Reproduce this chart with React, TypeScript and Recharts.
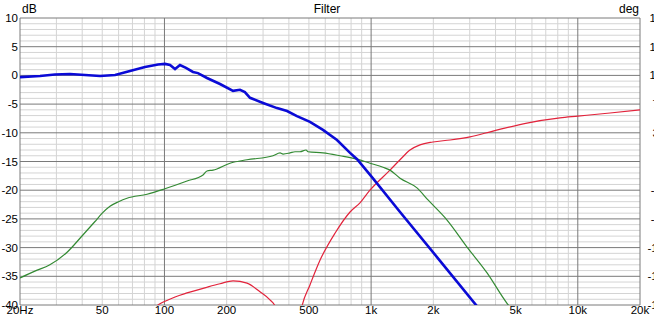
import React from "react";
import {
  LineChart,
  Line,
  XAxis,
  YAxis,
  CartesianGrid,
} from "recharts";

// frequency (Hz) / level (dB) pairs
const blueFreq = [20, 25, 29.5, 34.9, 41.3, 48.8, 57.7, 68.1, 80.5, 93.1, 100.6, 106.4, 112.5, 118.9, 127.1, 137.4, 145.3, 160.6, 185.7, 214.7, 232, 245, 259.4, 300, 350.4, 392, 437.6, 505.9, 584.8, 683.7, 790.7, 855, 998, 1380, 2155, 3218, 3700];
const blueDb = [-0.3, -0.1, 0.16, 0.24, 0.07, -0.1, 0.07, 0.77, 1.46, 1.9, 2.0, 1.8, 1.1, 1.8, 1.3, 0.6, 0.4, -0.45, -1.5, -2.7, -2.5, -2.9, -3.9, -4.8, -5.7, -6.2, -7.1, -8.1, -9.5, -11.25, -13.5, -14.6, -17.5, -23.8, -32.3, -40.0, -43];

const greenFreq = [20, 23.6, 27.9, 33.8, 40.3, 46, 50, 54.5, 60, 65.9, 82.4, 99.7, 128.6, 153.7, 160.6, 171.8, 207.6, 250.9, 335.2, 362.6, 374.9, 405.2, 428.4, 452.9, 484.3, 495, 584.8, 707, 855, 987, 1142, 1234, 1380, 1667, 1885, 2330, 2911, 3639, 4545, 5000];
const greenDb = [-35.3, -34.1, -33.0, -30.8, -27.8, -25.5, -24.0, -22.8, -22.0, -21.4, -20.7, -19.8, -18.4, -17.35, -16.65, -16.5, -15.3, -14.7, -14.0, -13.5, -13.7, -13.5, -13.3, -13.3, -13.0, -13.3, -13.5, -14.0, -14.6, -15.3, -16.0, -16.5, -17.9, -19.6, -21.7, -25.2, -29.9, -34.4, -39.7, -41.5];

const redFreq = [85, 95.1, 112.5, 128.6, 160.6, 185.7, 214.7, 250.9, 289.9, 324, 342.8, 370, 396, 425, 463, 506, 565.7, 668.5, 790.7, 883, 987, 1234, 1380, 1542, 1723, 1992, 2409, 3010, 3888, 5677, 8202, 10000, 14320, 20000];
const redDb = [-41, -39.8, -38.6, -37.9, -36.9, -36.3, -35.8, -36.2, -37.7, -39.1, -40.2, -46, -60, -48, -40.2, -36.5, -32.2, -27.5, -23.8, -22.2, -20, -16.5, -14.7, -13.0, -12.1, -11.6, -11.25, -10.7, -9.7, -8.3, -7.4, -7.1, -6.55, -6.0];

const xTicks = [20, 50, 100, 200, 500, 1000, 2000, 5000, 10000, 20000];
const xMajor = [20, 100, 1000, 10000, 20000];
const xMinor = [30, 40, 50, 60, 70, 80, 90, 200, 300, 400, 500, 600, 700, 800, 900, 2000, 3000, 4000, 5000, 6000, 7000, 8000, 9000];
const dbTicks = [10, 5, 0, -5, -10, -15, -20, -25, -30, -35, -40];
const dbMinor = [9, 8, 7, 6, 4, 3, 2, 1, -1, -2, -3, -4, -6, -7, -8, -9, -11, -12, -13, -14, -16, -17, -18, -19, -21, -22, -23, -24, -26, -27, -28, -29, -31, -32, -33, -34, -36, -37, -38, -39];
const degTicks = [180, 144, 108, 72, 36, 0, -36, -72, -108, -144, -180];

const toPoints = (f: number[], v: number[]) => f.map((x, i) => ({ f: x, v: v[i] }));

const fmtHz = (v: number) => {
  if (v === 20) return "20Hz";
  if (v >= 1000) return `${v / 1000}k`;
  return String(v);
};

const font = "'Liberation Sans', Arial, sans-serif";
const tickStyle = { fill: "#000", fontSize: 11.5, fontFamily: font };

// right-hand labels are centred just past the window edge, so they show cut off
const DegTick = (props: any) => (
  <text
    x={props.x + 11}
    y={props.y}
    dy="0.355em"
    textAnchor="middle"
    fill="#000"
    fontSize={11.5}
    fontFamily={font}
  >
    {props.payload.value}
  </text>
);

export default function App() {
  return (
    <div style={{ position: "fixed", left: 0, top: 0, width: 654, height: 318, background: "#fff", fontFamily: font }}>
      <div style={{ position: "absolute", left: 0, right: 0, top: 2, textAlign: "center", fontSize: 12 }}>Filter</div>
      <div style={{ position: "absolute", left: 22, top: 2, fontSize: 12 }}>dB</div>
      <div style={{ position: "absolute", left: 619, top: 2, fontSize: 12 }}>deg</div>
      <LineChart
        width={654}
        height={318}
        margin={{ top: 18, right: 0, left: 0, bottom: 0 }}
      >
        <CartesianGrid
          stroke="#d4d4d4"
          horizontalValues={dbMinor}
          verticalValues={xMinor}
        />
        <CartesianGrid
          stroke="#7a7a7a"
          horizontalValues={dbTicks}
          verticalValues={xMajor}
        />
        <XAxis
          dataKey="f"
          type="number"
          scale="log"
          domain={[20, 20000]}
          allowDataOverflow
          ticks={xTicks}
          tickFormatter={fmtHz}
          tickLine={false}
          axisLine={false}
          tickSize={0}
          tickMargin={1}
          height={13}
          interval={0}
          tick={tickStyle}
        />
        <YAxis
          type="number"
          domain={[-40, 10]}
          allowDataOverflow
          ticks={dbTicks}
          tickLine={false}
          axisLine={false}
          tickSize={0}
          width={20}
          tickMargin={2}
          interval={0}
          tick={tickStyle}
        />
        <YAxis
          yAxisId="deg"
          orientation="right"
          type="number"
          domain={[-180, 180]}
          allowDataOverflow
          ticks={degTicks}
          tickLine={false}
          axisLine={false}
          tickSize={0}
          width={14}
          tickMargin={8}
          interval={0}
          tick={DegTick}
        />
        <Line
          data={toPoints(redFreq, redDb)}
          dataKey="v"
          type="monotone"
          stroke="#e2233b"
          strokeWidth={1.2}
          dot={false}
          isAnimationActive={false}
        />
        <Line
          data={toPoints(greenFreq, greenDb)}
          dataKey="v"
          type="monotone"
          stroke="#338a33"
          strokeWidth={1.2}
          dot={false}
          isAnimationActive={false}
        />
        <Line
          data={toPoints(blueFreq, blueDb)}
          dataKey="v"
          type="linear"
          stroke="#0a0ad6"
          strokeWidth={2.6}
          dot={false}
          isAnimationActive={false}
        />
      </LineChart>
    </div>
  );
}
